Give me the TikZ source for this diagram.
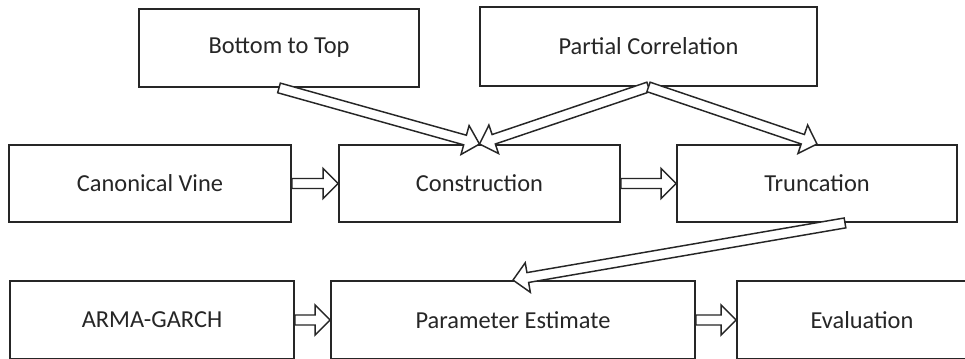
\documentclass[tikz,border=0pt]{standalone}
\usepackage{fontspec}
\setmainfont{Carlito}
\usetikzlibrary{calc}
\definecolor{ink}{HTML}{262626}
\tikzset{
  box/.style={draw=ink, line width=1.4pt, fill=white, inner sep=0pt, text=ink,
              font=\fontsize{18.3}{21}\selectfont, minimum height=58.5pt},
  fatar/.style={draw=ink, line width=1.1pt, fill=white, line join=miter},
}
\newcommand{\fatarrow}[2]{%
  \path #1 coordinate (fas) #2 coordinate (fae);
  \path ($(fae)!11.25pt!(fas)$) coordinate (fah);
  \draw[fatar] ($(fas)!3.75pt!90:(fae)$) -- ($(fah)!3.75pt!90:(fae)$)
     -- ($(fah)!11.25pt!90:(fae)$) -- (fae) -- ($(fah)!11.25pt!-90:(fae)$)
     -- ($(fah)!3.75pt!-90:(fae)$) -- ($(fas)!3.75pt!-90:(fae)$) -- cycle;
}
\begin{document}
\begin{tikzpicture}[x=0.75pt, y=-0.75pt]
\useasboundingbox (0,0) rectangle (965,358);
\clip (0,0) rectangle (965,358);
\fill[white] (0,0) rectangle (965,358);
% top row
\node[box, minimum width=210pt] (bt) at (279,48) {Bottom to Top};
\node[box, minimum width=252.75pt, minimum height=59.25pt] (pc) at (648.5,46.5) {Partial Correlation};
% middle row
\node[box, minimum width=211.5pt, minimum height=57.75pt] (cv) at (150,183.5) {Canonical Vine};
\node[box, minimum width=210.75pt, minimum height=57.75pt] (co) at (479.5,183.5) {Construction};
\node[box, minimum width=210pt, minimum height=57.75pt] (tr) at (817,183.5) {Truncation};
% bottom row
\node[box, minimum width=213pt] (ag) at (152,320) {ARMA-GARCH};
\node[box, minimum width=273pt] (pe) at (513,320) {Parameter Estimate};
\node[box, minimum width=187.5pt] (ev) at (862,320) {Evaluation};
% connectors
\fatarrow{(bt.south)}{(co.north)}
\fatarrow{(pc.south)}{(co.north)}
\fatarrow{(pc.south)}{(tr.north)}
\coordinate (trs) at ($(tr.south)+(28,0)$);
\fatarrow{(trs)}{(pe.north)}
\fatarrow{(cv.east)}{(co.west)}
\fatarrow{(co.east)}{(tr.west)}
\fatarrow{(ag.east)}{(pe.west)}
\fatarrow{(pe.east)}{(ev.west)}
\end{tikzpicture}
\end{document}
